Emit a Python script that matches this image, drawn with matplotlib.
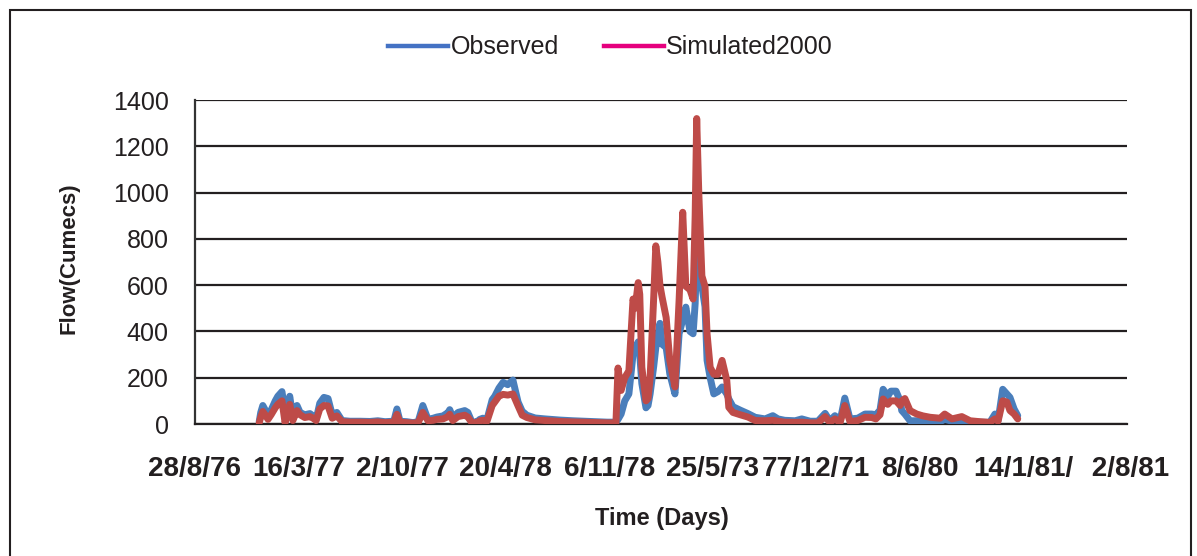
import matplotlib.pyplot as plt
from matplotlib.lines import Line2D
from matplotlib.patches import Rectangle

plt.rcParams['font.family'] = ['Liberation Sans', 'DejaVu Sans']

# 日数 (28/8/76 からの経過日数)
day = [124, 127, 131, 137, 141, 147, 155, 160, 168, 174, 180, 183, 189, 197, 203,
       212, 222, 228, 234, 241, 249, 257, 265, 274, 284, 299, 319, 338, 353, 367,
       384, 390, 396, 409, 421, 431, 440, 450, 460, 467, 479, 489, 492, 498, 508,
       521, 527, 535, 545, 550, 556, 564, 574, 579, 587, 595, 604, 614, 624, 632,
       641, 657, 676, 705, 730, 763, 796, 813, 817, 823, 830, 838, 846, 850, 856,
       859, 863, 871, 875, 879, 886, 890, 894, 898, 902, 910, 917, 927, 935, 942,
       948, 956, 962, 966, 969, 973, 979, 985, 989, 995, 1002, 1010, 1018, 1027, 1031,
       1039, 1053, 1068, 1082, 1101, 1116, 1126, 1139, 1159, 1172, 1188, 1203, 1217, 1226, 1236,
       1246, 1255, 1265, 1280, 1294, 1307, 1315, 1323, 1329, 1338, 1344, 1354, 1362, 1365, 1371,
       1381, 1394, 1406, 1420, 1439, 1448, 1462, 1481, 1497, 1516, 1535, 1545, 1551, 1560, 1568,
       1574, 1582, 1589]

observed = [10, 50, 80, 55, 35, 60, 100, 120, 140, 50, 90, 120, 30, 80, 50,
            40, 45, 35, 20, 90, 115, 110, 40, 50, 15, 12, 12, 11, 14, 10,
            12, 65, 12, 10, 6, 10, 80, 20, 25, 30, 35, 50, 62, 28, 50,
            58, 50, 8, 10, 20, 25, 20, 105, 120, 155, 180, 170, 190, 95, 55,
            38, 26, 22, 17, 14, 11, 8, 8, 20, 43, 100, 130, 300, 330, 355,
            300, 175, 70, 80, 130, 250, 330, 380, 435, 345, 330, 217, 130, 390, 450,
            505, 400, 390, 520, 745, 600, 595, 507, 275, 200, 130, 140, 160, 130, 108,
            75, 60, 45, 29, 22, 36, 22, 16, 14, 22, 12, 12, 46, 14, 36,
            14, 112, 22, 25, 43, 43, 40, 60, 150, 120, 142, 142, 100, 58, 43,
            14, 14, 12, 12, 10, 20, 12, 15, 10, 8, 7, 43, 14, 150, 130,
            115, 65, 36]

simulated = [5, 30, 54, 35, 20, 40, 70, 85, 100, 5, 60, 85, 15, 58, 40,
             28, 32, 25, 15, 65, 80, 78, 25, 35, 10, 8, 8, 7, 9, 6,
             8, 42, 8, 6, 4, 6, 50, 14, 16, 20, 22, 32, 42, 15, 32,
             38, 30, 5, 6, 14, 16, 12, 80, 95, 120, 128, 125, 130, 78, 38,
             28, 18, 15, 11, 9, 7, 5, 5, 242, 145, 200, 230, 540, 500, 611,
             560, 245, 100, 110, 200, 550, 770, 700, 600, 550, 460, 275, 160, 536, 915,
             595, 580, 540, 900, 1320, 1000, 640, 595, 390, 245, 215, 215, 275, 190, 72,
             50, 40, 30, 15, 14, 16, 12, 8, 7, 8, 5, 5, 32, 7, 22,
             6, 80, 10, 15, 29, 28, 22, 40, 108, 85, 100, 100, 80, 100, 110,
             58, 43, 35, 29, 25, 43, 22, 32, 14, 10, 7, 22, 12, 100, 95,
             58, 43, 22]

tick_days = [0, 200, 400, 600, 800, 1000, 1200, 1400, 1600, 1800]
tick_labels = ['28/8/76', '16/3/77', '2/10/77', '20/4/78', '6/11/78',
               '25/5/73', '77/12/71', '8/6/80', '14/1/81/', ' 2/8/81']
y_ticks = [0, 200, 400, 600, 800, 1000, 1200, 1400]

txt = '#231F20'

fig = plt.figure(figsize=(11.97, 5.56), dpi=100)
ax = fig.add_axes([0.1629, 0.2374, 0.7786, 0.5827])

ax.plot(day, observed, color='#4A7EBB', lw=5, solid_joinstyle='round',
        solid_capstyle='round', zorder=3)
ax.plot(day, simulated, color='#BE4B48', lw=5, solid_joinstyle='round',
        solid_capstyle='round', zorder=4)

ax.set_xlim(0, 1800)
ax.set_ylim(0, 1400)
ax.set_yticks(y_ticks)
ax.set_xticks(tick_days)
ax.set_xticklabels(tick_labels, fontweight='bold', fontsize=20)
ax.tick_params(axis='y', labelsize=18, pad=19, length=0, labelcolor=txt)
ax.tick_params(axis='x', pad=23, length=0, labelcolor=txt)
ax.grid(axis='y', color=txt, lw=1.6)
ax.set_axisbelow(True)
for s in ['top', 'right']:
    ax.spines[s].set_visible(False)
ax.spines['left'].set_color('#333333')
ax.spines['left'].set_linewidth(1.6)
ax.spines['bottom'].set_color(txt)
ax.spines['bottom'].set_linewidth(1.6)

fig.text(0.058, 0.535, 'Flow(Cumecs)', rotation=90, ha='center', va='center',
         fontsize=16, fontweight='bold', color=txt)
fig.text(0.553, 0.068, 'Time (Days)', ha='center', va='center',
         fontsize=17, fontweight='bold', color=txt)

# 凡例
handles = [Line2D([], [], color='#4472C4', lw=3.2),
           Line2D([], [], color='#E5007E', lw=3.2)]
fig.legend(handles, ['Observed', 'Simulated2000'], loc='center',
           bbox_to_anchor=(0.51, 0.915), ncol=2, frameon=False,
           fontsize=18, handlelength=2.4, handletextpad=0.1, columnspacing=1.8,
           labelcolor=txt)

# 外枠
fig.patches.append(Rectangle((0.0084, -0.02), 0.987, 1.002, transform=fig.transFigure,
                             fill=False, edgecolor='#231F20', lw=1.5))

fig.savefig('out.png', dpi=100)
